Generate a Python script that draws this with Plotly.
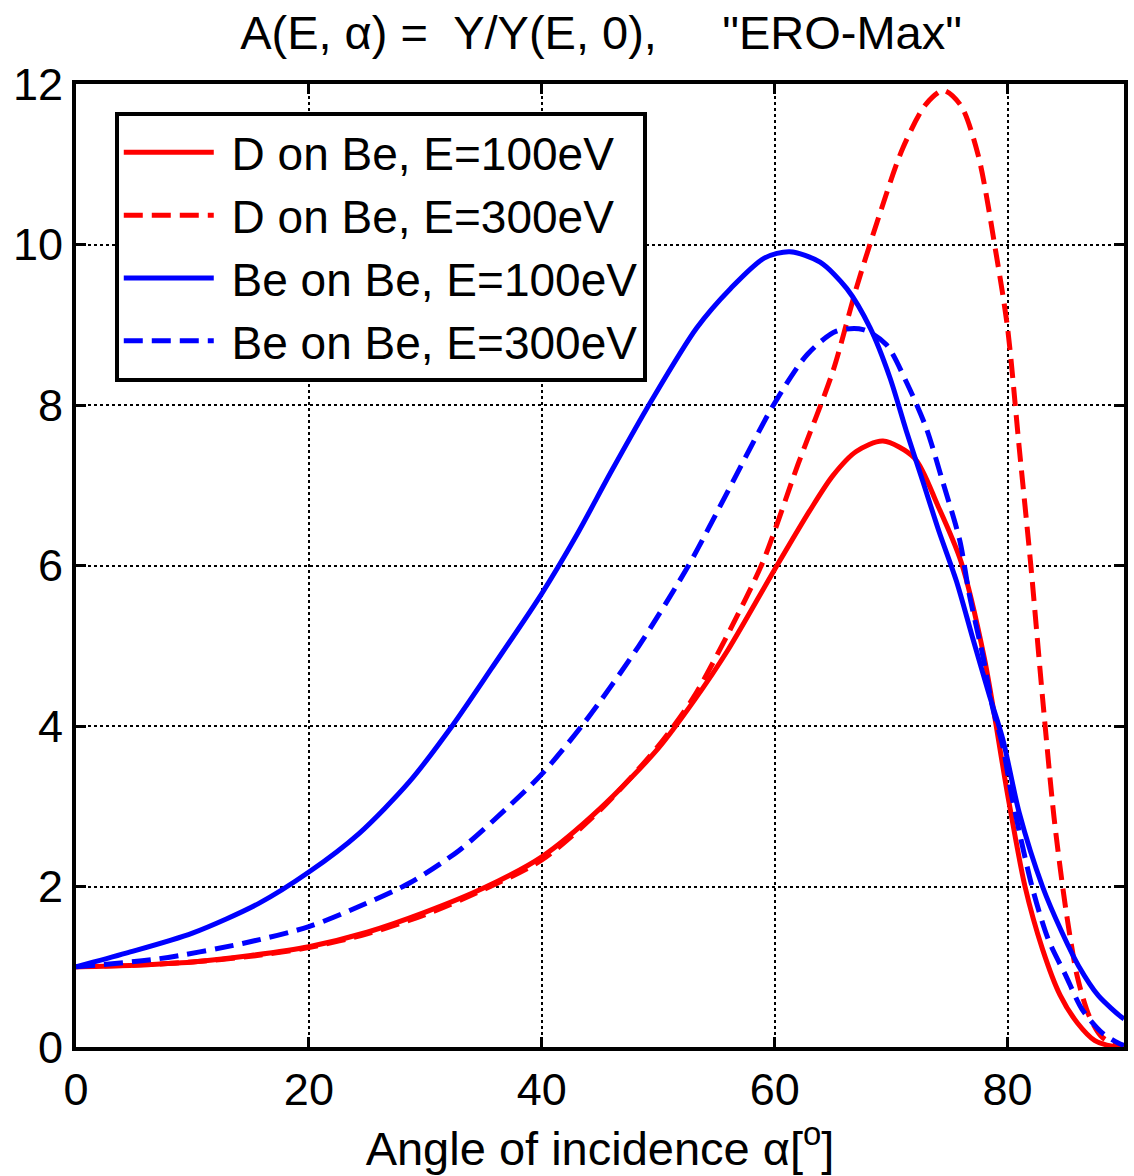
import plotly.graph_objects as go

# ---- data ----
x_d100 = [0, 5, 10, 15, 20, 25, 30, 35, 40, 45, 50, 53, 56, 60, 63, 65, 67, 69.3, 72, 74, 76, 78, 80, 81.5, 83, 84.5, 86, 87.5, 89, 90]
y_d100 = [1.0, 1.02, 1.06, 1.14, 1.25, 1.43, 1.68, 1.98, 2.37, 2.97, 3.72, 4.3, 4.95, 5.95, 6.68, 7.12, 7.42, 7.55, 7.34, 6.75, 6.05, 4.85, 3.15, 2.0, 1.22, 0.65, 0.3, 0.08, 0.01, 0.0]

x_d300 = [0, 5, 10, 15, 20, 25, 30, 35, 40, 45, 50, 53, 56, 59, 62, 65, 67, 69, 71, 73, 74.5, 76, 77.5, 79, 80, 81, 82, 83, 84, 85, 86, 87, 88, 89, 90]
y_d300 = [1.0, 1.02, 1.06, 1.13, 1.24, 1.41, 1.65, 1.96, 2.33, 2.95, 3.75, 4.35, 5.15, 6.05, 7.26, 8.42, 9.45, 10.37, 11.2, 11.75, 11.92, 11.73, 11.1, 9.9, 8.96, 7.47, 6.0, 4.36, 2.85, 1.72, 0.87, 0.39, 0.14, 0.04, 0.0]

x_be100 = [0, 4.3, 10, 15.7, 20, 24.3, 28.6, 32.3, 35.7, 40, 43, 46, 49.4, 53.3, 56.2, 59.1, 61.3, 63.9, 66.2, 68.2, 69.9, 71.3, 72.7, 74.1, 75.6, 77, 78.4, 79.6, 81, 83, 84.7, 86.1, 87.8, 89.8, 90]
y_be100 = [1.0, 1.17, 1.42, 1.79, 2.18, 2.66, 3.3, 4.0, 4.72, 5.65, 6.38, 7.18, 8.05, 8.96, 9.45, 9.83, 9.91, 9.78, 9.45, 8.96, 8.34, 7.68, 7.06, 6.43, 5.81, 5.1, 4.4, 3.83, 2.92, 2.0, 1.42, 1.01, 0.64, 0.37, 0.35]

x_be300 = [0, 7.1, 14.3, 20, 24.3, 28.6, 32.9, 37.1, 40, 43.7, 48.3, 52.6, 56, 59.9, 62.8, 65.3, 67.6, 69.6, 71.3, 73, 74.4, 75.9, 76.7, 77.9, 78.7, 79.6, 80.4, 82.1, 83.5, 85, 86.4, 88.1, 89.5, 90]
y_be300 = [1.0, 1.1, 1.29, 1.5, 1.75, 2.04, 2.45, 2.99, 3.4, 4.05, 4.99, 6.0, 6.93, 8.0, 8.63, 8.92, 8.94, 8.75, 8.29, 7.72, 7.06, 6.31, 5.65, 4.86, 4.24, 3.74, 3.1, 2.0, 1.34, 0.89, 0.47, 0.18, 0.05, 0.02]

names = ["D on Be, E=100eV", "D on Be, E=300eV", "Be on Be, E=100eV", "Be on Be, E=300eV"]
x_ticks = [0, 20, 40, 60, 80]
y_ticks = [0, 2, 4, 6, 8, 10, 12]

FONT = "Liberation Sans, Arial, sans-serif"
DASH = "19px,9px"

series = [
    (x_d100, y_d100, names[0], "#ff0000", "solid"),
    (x_d300, y_d300, names[1], "#ff0000", DASH),
    (x_be100, y_be100, names[2], "#0000ff", "solid"),
    (x_be300, y_be300, names[3], "#0000ff", DASH),
]

fig = go.Figure()
for i, (xs, ys, nm, col, dash) in enumerate(series):
    fig.add_trace(go.Scatter(
        x=xs, y=ys, name="\u00a0" + nm, mode="lines", line_shape="spline",
        line=dict(color=col, width=5, dash=dash, smoothing=0.8),
        legendgroup=str(i),
    ))

axis_common = dict(
    showline=True, linecolor="black", linewidth=4, mirror="ticks",
    ticks="inside", ticklen=10, tickwidth=3, tickcolor="black",
    showgrid=True, gridcolor="black", gridwidth=2, griddash="dot",
    zeroline=False,
    tickfont=dict(family=FONT, size=45, color="black"),
)

fig.update_xaxes(range=[0, 90], tickvals=x_ticks,
                 title=dict(text="Angle of incidence α[<sup>o</sup>]",
                            font=dict(family=FONT, size=47, color="black"), standoff=14),
                 **axis_common)
fig.update_yaxes(range=[0, 12], tickvals=y_ticks, **axis_common)

fig.update_layout(
    width=1134, height=1176,
    margin=dict(l=76, r=6, t=84, b=129),
    paper_bgcolor="white", plot_bgcolor="white",
    title=dict(text='A(E, α) =  Y/Y(E, 0),     "ERO-Max"',
               font=dict(family=FONT, size=47, color="black"),
               x=0.53, xanchor="center", y=1 - 33 / 1176, yanchor="middle"),
    legend=dict(x=0.037, y=0.971, xanchor="left", yanchor="top",
                bgcolor="white", bordercolor="black", borderwidth=4,
                font=dict(family=FONT, size=46, color="black"),
                itemwidth=90, tracegroupgap=0),
    showlegend=True,
)

fig.write_html("out.html")
